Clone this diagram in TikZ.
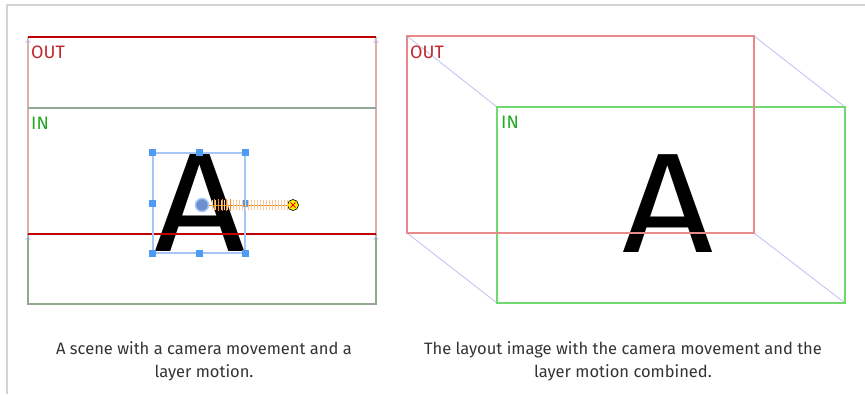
\documentclass[tikz,border=0pt]{standalone}
\usepackage{fontspec}
\setmainfont{Fira Sans}
\usepackage{xcolor}
\definecolor{cFrame}{HTML}{D4D4D4}
\definecolor{cOutDark}{HTML}{C00000}
\definecolor{cOutLight}{HTML}{E88A8A}
\definecolor{cOutSide}{HTML}{D9AFAF}
\definecolor{cInDark}{HTML}{93A893}
\definecolor{cInLight}{HTML}{6FD86F}
\definecolor{cOutText}{HTML}{C0282D}
\definecolor{cInText}{HTML}{22A822}
\definecolor{cDepth}{HTML}{C4C4F0}
\definecolor{cSel}{HTML}{A6C6F6}
\definecolor{cHandle}{HTML}{4D9BF5}
\definecolor{cPivot}{HTML}{6C8FD0}
\definecolor{cMotion}{HTML}{F08A24}
\definecolor{cCaption}{HTML}{333333}
\usetikzlibrary{positioning,calc}
\tikzset{
  frame-line/.style={draw=cFrame,line width=1.6pt},
  out-edge/.style={draw=cOutDark,line width=1.1pt},
  out-side/.style={draw=cOutSide,line width=1.2pt},
  in-edge/.style={draw=cInDark,line width=1.2pt},
  out-box/.style={draw=cOutLight,line width=1.2pt},
  in-box/.style={draw=cInLight,line width=1.2pt},
  depth-line/.style={draw=cDepth,line width=0.9pt},
  tag-out/.style={anchor=base west,inner sep=0pt,text=cOutText,font=\fontsize{18}{18}\selectfont},
  tag-in/.style={anchor=base west,inner sep=0pt,text=cInText,font=\fontsize{18}{18}\selectfont},
  letter/.style={anchor=base,inner sep=0pt,font=\fontsize{142}{142}\selectfont},
  sel-box/.style={draw=cSel,line width=1.2pt,minimum width=92pt,minimum height=100pt,inner sep=0pt},
  handle/.style={fill=cHandle,minimum size=7pt,inner sep=0pt},
  pivot/.style={circle,fill=cPivot,draw=cSel,line width=1.5pt,minimum size=13pt,inner sep=0pt},
  goal/.style={circle,fill=yellow,draw=black,line width=0.6pt,minimum size=11pt,inner sep=0pt},
  motion/.style={draw=cMotion,line width=0.8pt},
  tick-light/.style={draw=cMotion!45,line width=0.8pt},
  tick-dark/.style={draw=cMotion,line width=0.9pt},
  corner-tip/.style={draw=cDepth,line width=0.6pt},
  caption/.style={align=center,text=cCaption,inner sep=0pt,font=\fontsize{16.5}{23}\selectfont},
}
\newcommand{\wideA}{\scalebox{1.12}[1]{A}}
\begin{document}
\begin{tikzpicture}[x=1pt,y=-1pt]
  \useasboundingbox (0,0) rectangle (865,394);
  % page frame
  \draw[frame-line] (7,394) -- (7,5) -- (865,5);

  % left: side view of the camera move
  \coordinate (lo-nw) at (28,37);
  \coordinate (lo-ne) at (376,37);
  \coordinate (lo-sw) at (28,234);
  \coordinate (lo-se) at (376,234);
  \coordinate (li-nw) at (28,108);
  \coordinate (li-ne) at (376,108);
  \coordinate (li-sw) at (28,304);
  \coordinate (li-se) at (376,304);
  \draw[out-side] (lo-nw) -- (lo-sw);
  \draw[out-side] (lo-ne) -- (lo-se);
  \draw[in-edge] (lo-sw) -- (li-sw) -- (li-se) -- (lo-se);
  \draw[in-edge] (li-nw) -- (li-ne);
  \draw[out-edge] (lo-nw) -- (lo-ne);
  \foreach \c in {lo-nw,lo-ne,lo-sw,lo-se}
    \draw[corner-tip] ($(\c)+(-2.5,6)$) -- ($(\c)+(0,2)$) -- ($(\c)+(2.5,6)$);
  \node[tag-out] (out-left) at (31,58) {OUT};
  \node[tag-in] (in-left) at (31,129) {IN};

  \node[letter] (a-left) at (200,251) {\wideA};
  \draw[out-edge] (lo-sw) -- (lo-se);

  % selection and layer motion
  \node[sel-box] (sel) at (199,203) {};
  \foreach \a in {north west,north,north east,east,south east,south,south west,west}
    \node[handle] at (sel.\a) {};
  \node[pivot] (pivot) at (202,205) {};
  \node[goal] (goal) at (293,205) {};
  \draw[motion] (pivot) -- (goal);
  \foreach \x in {212,215,...,287}
    \draw[tick-light] (\x,200) -- (\x,210);
  \foreach \x in {214,218,...,230}
    \draw[tick-dark] (\x,199) -- (\x,211);
  \draw[red,line width=0.9pt] ($(goal)+(-2.5,-2.5)$) -- ($(goal)+(2.5,2.5)$)
    ($(goal)+(-2.5,2.5)$) -- ($(goal)+(2.5,-2.5)$);

  % right: layout with both moves combined
  \coordinate (ro-nw) at (407,36);
  \coordinate (ro-ne) at (754,36);
  \coordinate (ro-sw) at (407,233);
  \coordinate (ro-se) at (754,233);
  \coordinate (ri-nw) at (497,107);
  \coordinate (ri-ne) at (845,107);
  \coordinate (ri-sw) at (497,303);
  \coordinate (ri-se) at (845,303);
  \foreach \c in {nw,ne,sw,se}
    \draw[depth-line] (ro-\c) -- (ri-\c);
  \node[letter] (a-right) at (668,252) {\wideA};
  \draw[in-box] (ri-nw) rectangle (ri-se);
  \draw[out-box] (ro-nw) rectangle (ro-se);
  \node[tag-out] (out-right) at (410,58) {OUT};
  \node[tag-in] (in-right) at (501,128) {IN};

  % captions
  \node[caption] (cap-left) at (204,361) {A scene with a camera movement and a\\layer motion.};
  \node[caption] (cap-right) at (623,361) {The layout image with the camera movement and the\\layer motion combined.};
\end{tikzpicture}
\end{document}
